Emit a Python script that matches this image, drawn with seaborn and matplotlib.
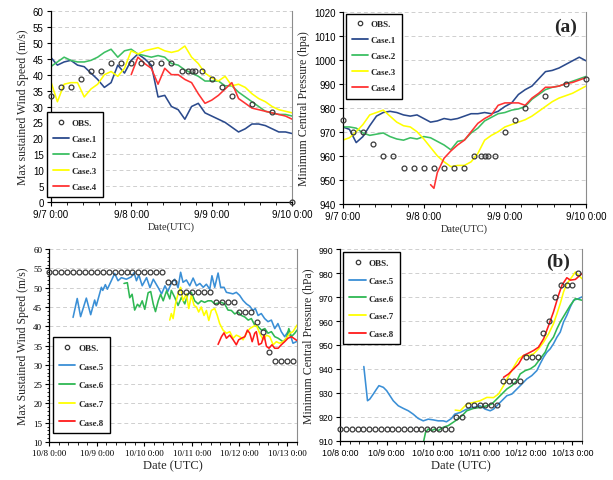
import numpy as np
import pandas as pd
import matplotlib
matplotlib.use('Agg')
import matplotlib.pyplot as plt
from matplotlib.lines import Line2D
from matplotlib.ticker import MultipleLocator
import seaborn as sns

# ---------------- panel (a): hours since 9/7 0:00 ----------------
hours_a = list(range(0, 73, 2))

wind_case1 = [45.5, 43, 44, 44.5, 43, 42.5, 40.5, 38.5, 36, 37.5, 43, 40.5, 44.5, 46.5, 45, 43,
              33, 33.5, 30, 29, 26, 30, 31, 28, 27, 26, 25, 23.5, 22, 23, 24.5, 24.5, 24, 23,
              22, 22, 21.5]
wind_case2 = [42.5, 44, 45.5, 44.5, 44, 44, 44.5, 45.5, 47, 48, 45.5, 47.5, 48, 46.5, 46, 45.5,
              46, 45.5, 43.5, 43, 41.5, 40.5, 39.5, 38, 38, 38, 36.5, 36.5, 34.5, 33, 31.5, 30,
              28.5, 28, 27.5, 27.5, 27]
wind_case3 = [38, 31.5, 37, 37.5, 37.5, 33, 35.5, 37, 40, 41, 39.5, 42, 47.5, 46.5, 47.5, 48,
              48.5, 47.5, 47, 47.5, 49, 45.5, 43.5, 40.5, 39, 38, 39.5, 36.5, 37, 36, 34, 32.5,
              31.5, 30, 29, 28.5, 28]
wind_case4 = [40, 45.5, 43.5, 42, 37, 42, 40, 40, 38.5, 37.5, 34, 31, 32, 33.5, 35.5, 37.5,
              32.5, 31, 29.5, 29, 28.5, 28, 27.5, 27, 26]

pres_case1 = [972, 971, 965.5, 968, 972.5, 976.5, 978, 978.5, 978, 977, 976.5, 977, 975.5, 974,
              974.5, 975.5, 975, 975.5, 976.5, 977.5, 977.5, 978, 977.5, 978.5, 980.5, 982,
              985.5, 987.5, 989, 992, 995, 995.5, 996.5, 998, 999.5, 1001, 999.5]
pres_case2 = [972, 972, 971.5, 969.5, 968.5, 969, 969.5, 968, 967, 966.5, 967.5, 967, 968,
              967.5, 966, 964.5, 962.5, 966, 966.5, 969.5, 971.5, 974.5, 976, 977.5, 978, 979,
              979.5, 980.5, 983.5, 985.5, 987.5, 988.5, 989, 990, 991, 992, 993]
pres_case3 = [966.5, 967.5, 970, 973, 977, 978, 979, 976.5, 974, 972.5, 972, 970, 967, 963.5,
              960, 957.5, 955.5, 956, 956, 957.5, 961, 966.5, 968.5, 970, 972, 973, 974, 975,
              976.5, 978.5, 980.5, 982.5, 984, 985, 986, 987.5, 989]
pres_case4_h = [26, 27, 28, 30, 32, 34, 36, 38, 40, 42, 44, 46, 48, 50, 52, 54, 56, 58, 60, 62,
                64, 66, 68, 70, 72]
pres_case4 = [948, 946.5, 953, 959, 962, 964.5, 966.5, 970, 973.5, 975.5, 977, 981, 982, 982,
              982, 981, 984, 986, 988.5, 988.5, 989, 990, 990.5, 991.5, 992.5]

obs_a_h = [0, 3, 6, 9, 12, 15, 18, 21, 24, 27, 30, 33, 36, 39, 41, 42, 43, 45, 48, 51, 54, 60,
           66, 72]
obs_a_wind = [33.4, 36, 36, 38.6, 41.2, 41.2, 43.7, 43.7, 43.7, 43.7, 43.7, 43.7, 43.7, 41.2,
              41.2, 41.2, 41.2, 41.2, 38.6, 36, 33.4, 30.9, 28.3, 0]
obs_a_pres = [975, 970, 970, 965, 960, 960, 955, 955, 955, 955, 955, 955, 955, 960, 960, 960,
              960, 960, 970, 975, 980, 985, 990, 992]

ticks_a = [0, 24, 48, 72]
labels_a = ['9/7 0:00', '9/8 0:00', '9/9 0:00', '9/10 0:00']

# ---------------- panel (b): hours since 10/8 0:00 ----------------
c5w_h = [12, 14.1, 15.8, 18.7, 20.9, 22.9, 23.7, 26.3, 27, 28.3, 29.3, 31.3, 33, 34.7, 36.4,
         38.9, 41.4, 42.8, 44, 45.2, 46.9, 49.1, 50.8, 52.5, 55, 56.7, 58.4, 59.8, 61.8, 63.3,
         65, 66.3, 67.5, 69.2, 70.9, 72.6, 74.3, 76, 77.7, 79.3, 81, 82.1, 83.5, 85.2, 86.5,
         88.2, 89.4, 91.1, 92.7, 94.4, 96.1, 97.8, 99.5, 101.2, 102.8, 104, 105.4, 107, 108.7,
         110.4, 112.1, 113.8, 115.4, 117.1, 118.8, 120.5, 122.2, 123, 124.7]
c5w = [42.3, 47.2, 42.5, 47.3, 43, 46.8, 45.3, 50.1, 49.3, 50.8, 49.6, 51.8, 53.7, 51.8, 52.6,
       52.2, 52.8, 53.9, 51.8, 53.3, 50.5, 52.6, 50, 52.2, 50, 48.4, 50.5, 49, 51.4, 52.2, 50,
       54, 51.4, 52, 50.5, 52.5, 50.5, 51.1, 50.1, 50.9, 49.6, 53.1, 50.1, 53.8, 50.1, 50.1,
       48.8, 48.6, 48.4, 48.8, 48, 46.7, 45.8, 45.2, 44.1, 44.6, 42.8, 43.3, 42, 41.2, 41.6,
       39.4, 40.7, 38.6, 37.3, 38.6, 36.9, 35.6, 36]
c6w_h = [37.7, 39.4, 40.6, 41.8, 43.1, 44.5, 45.6, 46.9, 48.2, 49.9, 51.2, 52.5, 53.6, 55, 56.2,
         57.5, 59.2, 60.8, 61.6, 63.3, 65, 66.7, 68.4, 70, 71.7, 73.4, 75.1, 76.7, 78.4, 80.1,
         81.8, 83.5, 85.2, 86.9, 88.5, 90.2, 91.9, 93.6, 95.3, 97, 98.7, 100.4, 102, 103.7,
         105.4, 107.1, 108.8, 110.4, 112.1, 113.8, 115.5, 118, 119.7, 120.9, 122.2, 123.9, 125]
c6w = [51.1, 51.3, 47.4, 48.3, 44.2, 45.7, 45.1, 46.6, 44.4, 48.7, 49, 45.7, 43.8, 46.6, 48.3,
       46.6, 49.2, 47.1, 49.3, 47.5, 45.4, 47.5, 45.8, 48.4, 48.8, 46.6, 45.8, 46.6, 46.2, 46.6,
       46.6, 45.8, 46, 46.2, 45.8, 44.2, 44.1, 43.2, 43.7, 42.8, 42.4, 41.6, 42, 40.3, 39.9, 39,
       39.4, 38.2, 38.6, 37.3, 36.9, 36, 36.9, 39.4, 37.3, 38.2, 39]
c7w_h = [60.8, 61.6, 62.5, 63.7, 65, 66.3, 67.5, 69.2, 70.4, 71.7, 73.1, 74.3, 75.4, 76.7, 78.1,
         79.3, 80.5, 81.8, 83.5, 84.8, 86, 87.7, 89.4, 91.1, 92.8, 94.4, 96.1, 97.8, 99.5, 101.2,
         102.8, 104.5, 106.2, 107.9, 109.6, 111.3, 113, 114.6, 116.3, 118, 119.7, 121.4, 123, 125]
c7w = [41.6, 43.3, 42, 45.8, 48.4, 50.1, 46.6, 48.4, 44.6, 48, 45.4, 45, 43.7, 45, 42.8, 44.1,
       41.5, 44.1, 44.6, 42.8, 40.7, 39, 38.2, 38.6, 36.9, 37.7, 37.3, 36.5, 38.2, 39.4, 39.9,
       40.3, 38.2, 36.5, 37.7, 37.3, 35.2, 36, 35.6, 36, 36.9, 38.2, 38.6, 40.3]
c8w_h = [85.2, 86.9, 88.2, 89.4, 91.1, 92.8, 94.4, 95.6, 97, 98.7, 100, 101.2, 102.4, 103.7,
         104.5, 105.7, 107.1, 108.4, 109.6, 110.9, 112.4, 113.8, 115.5, 117.1, 118.8, 120.5,
         122.2, 123.9, 125]
c8w = [35.3, 37.3, 38.3, 36.9, 37.7, 36.5, 35.2, 36.5, 36.9, 37.3, 39, 38.2, 36, 38.2, 38.6,
       35.2, 35.6, 37.7, 34.8, 34.3, 35.2, 34.3, 34.3, 35.2, 36, 36.9, 37.3, 36.7, 36.3]

c5p_h = [12.2, 14.1, 15.3, 17.1, 18.8, 20, 22.3, 24, 25.7, 27.4, 30, 32.6, 35.2, 37.7, 40.3,
         42.9, 45.5, 48.1, 50.6, 53.2, 54.9, 57.5, 59.2, 62, 65.4, 68.9, 72.3, 74.9, 77.5, 79.2,
         80.9, 83.5, 86.1, 88.7, 91.3, 93.9, 96.4, 99, 101.6, 103.3, 105.1, 106.8, 108.5, 110.2,
         112, 113.7, 115.4, 117.1, 118.9, 120.6, 123.2, 124.9]
c5p = [941, 926.7, 927.4, 929.5, 931.6, 933, 932.3, 930.9, 928.8, 926.7, 924.6, 923.5, 922.5,
       921.1, 919.3, 918.3, 919, 918.7, 918.3, 918.3, 917.9, 919.3, 921.1, 921.8, 923.2, 923.9,
       924.6, 923.2, 922.5, 923.2, 924.6, 926.7, 928.8, 929.5, 931.6, 933.7, 935.8, 937.2,
       939.3, 942.1, 944.9, 947, 948.4, 950.5, 953.3, 955.4, 959.6, 962.4, 965.9, 968.7, 969.4,
       970.1]
c6p_h = [42.9, 44.1, 45.5, 47.2, 48.9, 50.6, 53.2, 55.8, 58.4, 60.9, 63, 65.4, 68.9, 72.3, 75.8,
         78.3, 80.9, 83.5, 86.1, 88.7, 91.3, 93, 95.6, 98.2, 100.7, 103.3, 105.9, 107.7, 110.2,
         112, 113.7, 116.3, 118.9, 121.5, 124.9]
c6p = [909, 913.5, 914.9, 914.2, 914.9, 914.2, 915.6, 916.3, 917.7, 919.1, 920.5, 922.5, 923.5,
       923.9, 924.6, 925.3, 927.4, 929.5, 931.6, 933, 935.1, 937.9, 939.3, 940, 941.4, 944.2,
       947, 950.5, 953.3, 956.8, 959.6, 963.1, 966.6, 969.4, 968.7]
c7p_h = [59.4, 62, 65.4, 68.9, 72.3, 75.8, 79.2, 81.8, 84.4, 87, 89.6, 92.2, 94.7, 97.3, 99.9,
         102.5, 105.1, 107.7, 110.2, 112, 113.7, 115.4, 117.1, 119.7, 121.5, 123.2, 124.9]
c7p = [922.8, 922.5, 925.3, 926, 926.7, 928.1, 928, 929.5, 933, 937, 940.7, 944.2, 945.6,
       945.6, 946.3, 948.4, 951.2, 954.7, 958.9, 963.1, 967.3, 972.2, 975.6, 978.4, 980.5,
       979.1, 977.7]
c8p_h = [84.4, 87, 89.6, 92.2, 94.7, 97.3, 99.9, 102.5, 105.1, 107.7, 110.2, 112.8, 114.6,
         117.1, 118.9, 121.5, 124.9]
c8p = [936.5, 937.9, 940, 942.1, 945.6, 946.6, 947.7, 949.1, 952.6, 958.2, 963.8, 970.8, 975,
       978.1, 977.1, 977.4, 979.8]

obs_b_h = [0, 3, 6, 9, 12, 15, 18, 21, 24, 27, 30, 33, 36, 39, 42, 45, 48, 51, 54, 57, 60, 63,
           66, 69, 72, 75, 78, 81, 84, 87, 90, 93, 96, 99, 102, 105, 108, 111, 114, 117, 120, 123]
obs_b_wind = [54, 54, 54, 54, 54, 54, 54, 54, 54, 54, 54, 54, 54, 54, 54, 54, 54, 54, 54, 54,
              51.5, 51.5, 48.9, 48.9, 48.9, 48.9, 48.9, 48.9, 46.3, 46.3, 46.3, 46.3, 43.7, 43.7,
              43.7, 41.2, 38.6, 33.4, 30.9, 30.9, 30.9, 30.9]
obs_b_pres = [915, 915, 915, 915, 915, 915, 915, 915, 915, 915, 915, 915, 915, 915, 915, 915,
              915, 915, 915, 915, 920, 920, 925, 925, 925, 925, 925, 925, 935, 935, 935, 935,
              945, 945, 945, 955, 960, 970, 975, 975, 975, 980]

ticks_b = [0, 24, 48, 72, 96, 120]
labels_b = ['10/8 0:00', '10/9 0:00', '10/10 0:00', '10/11 0:00', '10/12 0:00', '10/13 0:00']

colors_a = {'Case.1': '#2b4a8c', 'Case.2': '#3cbf62', 'Case.3': '#ffff00', 'Case.4': '#ff3333'}
colors_b = {'Case.5': '#3a8fd6', 'Case.6': '#2eb853', 'Case.7': '#ffff00', 'Case.8': '#ff1a1a'}

SERIF = 'Liberation Serif'
SANS = 'Liberation Sans'


def long_frame(series):
    parts = [pd.DataFrame({'hour': h, 'value': v, 'case': name}) for name, (h, v) in series.items()]
    return pd.concat(parts, ignore_index=True)


def draw_panel(ax, series, colors, obs_h, obs_v, xlim, ylim, ystep, ticks, labels,
               xlabel, ylabel, tickfont, ticksize, xlab_size, ylab_size, legend_anchor,
               legend_loc, legend_spacing, yminor=None):
    df = long_frame(series)
    sns.lineplot(data=df, x='hour', y='value', hue='case', palette=colors, hue_order=list(colors),
                 estimator=None, sort=False, lw=1.15, legend=False, ax=ax)
    ax.plot(obs_h, obs_v, ls='', marker='o', ms=3.5, mfc='none', mec='#3a3a3a', mew=0.9,
            clip_on=False, zorder=5)
    ax.set_xlim(*xlim)
    ax.set_ylim(*ylim)
    ax.yaxis.set_major_locator(MultipleLocator(ystep))
    if yminor:
        ax.yaxis.set_minor_locator(MultipleLocator(yminor))
    ax.set_xticks(ticks)
    ax.set_xticklabels(labels)
    ax.xaxis.set_minor_locator(MultipleLocator(4.8))
    ax.grid(axis='y', ls=(0, (4, 3)), color='#cfcfcf', lw=0.7)
    ax.set_axisbelow(True)
    for side in ['left', 'bottom']:
        ax.spines[side].set_color('black')
        ax.spines[side].set_linewidth(0.9)
    ax.spines['right'].set_color('#8c8c8c')
    ax.spines['right'].set_linewidth(0.8)
    ax.spines['top'].set_visible(False)
    ax.tick_params(which='major', direction='out', length=3, width=0.8, colors='black', pad=2)
    ax.tick_params(which='minor', direction='out', length=1.5, width=0.6, colors='black')
    ax.tick_params(axis='x', which='minor', length=2)
    for lab in ax.get_xticklabels() + ax.get_yticklabels():
        lab.set_fontfamily(tickfont)
        lab.set_fontsize(ticksize)
    ax.set_xlabel(xlabel, family=SERIF, fontsize=xlab_size, labelpad=2)
    ax.set_ylabel(ylabel, family=SERIF, fontsize=ylab_size, labelpad=3)

    handles = [Line2D([], [], ls='', marker='o', ms=3.2, mfc='none', mec='#3a3a3a', mew=0.9,
                      label='OBS.')]
    handles += [Line2D([], [], color=c, lw=1.3, label=n) for n, c in colors.items()]
    leg = ax.legend(handles=handles, loc=legend_loc, bbox_to_anchor=legend_anchor,
                    borderaxespad=0, frameon=True, fancybox=False, framealpha=1,
                    edgecolor='black', handlelength=1.8, handletextpad=0.3,
                    labelspacing=legend_spacing, borderpad=0.7,
                    prop={'family': SERIF, 'weight': 'bold', 'size': 6.5})
    leg.get_frame().set_linewidth(1.0)
    leg.set_zorder(10)


sns.set_style('ticks')
plt.rcParams['font.family'] = [SERIF, 'DejaVu Serif']

fig = plt.figure(figsize=(6.13, 4.81), dpi=100)
ax1 = fig.add_axes([0.0827, 0.578, 0.394, 0.397])
ax2 = fig.add_axes([0.559, 0.574, 0.397, 0.400])
ax3 = fig.add_axes([0.0804, 0.079, 0.404, 0.401])
ax4 = fig.add_axes([0.555, 0.0817, 0.394, 0.398])

draw_panel(ax1,
           {'Case.1': (hours_a, wind_case1), 'Case.2': (hours_a, wind_case2),
            'Case.3': (hours_a, wind_case3), 'Case.4': (hours_a[12:], wind_case4)},
           colors_a, obs_a_h, obs_a_wind, (0, 72), (0, 60), 5, ticks_a, labels_a,
           'Date(UTC)', 'Max sustained Wind Speed (m/s)', SANS, 7, 7.5, 8.5,
           (-0.017, 0.026), 'lower left', 0.85)

draw_panel(ax2,
           {'Case.1': (hours_a, pres_case1), 'Case.2': (hours_a, pres_case2),
            'Case.3': (hours_a, pres_case3), 'Case.4': (pres_case4_h, pres_case4)},
           colors_a, obs_a_h, obs_a_pres, (0, 72), (940, 1020), 10, ticks_a, labels_a,
           'Date(UTC)', 'Minimum Central Pressure (hpa)', SANS, 7, 7.5, 8.5,
           (0.012, 0.988), 'upper left', 0.85)

draw_panel(ax3,
           {'Case.5': (c5w_h, c5w), 'Case.6': (c6w_h, c6w),
            'Case.7': (c7w_h, c7w), 'Case.8': (c8w_h, c8w)},
           colors_b, obs_b_h, obs_b_wind, (0, 125), (10, 60), 5, ticks_b, labels_b,
           'Date (UTC)', 'Max Sustained Wind Speed (m/s)', SERIF, 6.5, 9, 8.5,
           (0.014, 0.047), 'lower left', 1.15, yminor=1)

draw_panel(ax4,
           {'Case.5': (c5p_h, c5p), 'Case.6': (c6p_h, c6p),
            'Case.7': (c7p_h, c7p), 'Case.8': (c8p_h, c8p)},
           colors_b, obs_b_h, obs_b_pres, (0, 124.8), (910, 990), 10, ticks_b, labels_b,
           'Date (UTC)', 'Minimum Central Pressure (hPa)', SANS, 6.3, 9, 8.5,
           (0.012, 0.984), 'upper left', 1.05)

ax2.text(0.914, 0.922, '(a)', transform=ax2.transAxes, ha='center', va='center',
         family=SERIF, fontsize=14, fontweight='bold')
ax4.text(0.902, 0.939, '(b)', transform=ax4.transAxes, ha='center', va='center',
         family=SERIF, fontsize=14, fontweight='bold')

fig.savefig('out.png', dpi=100)
